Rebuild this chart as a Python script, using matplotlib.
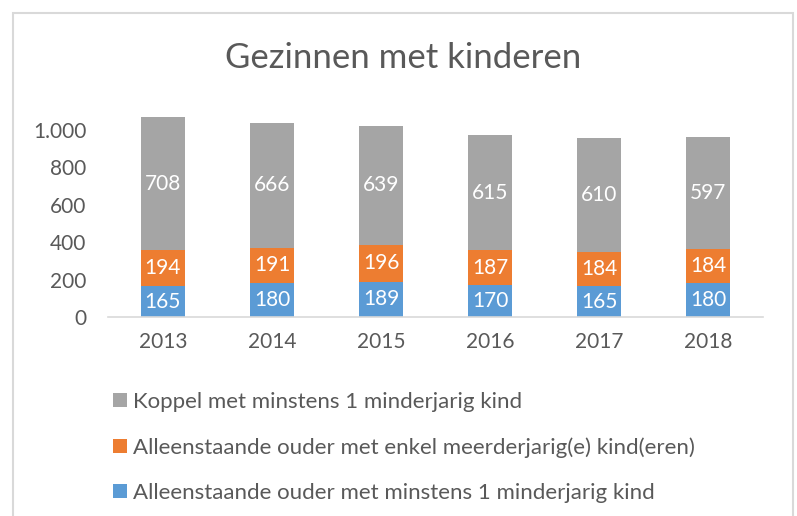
import matplotlib
matplotlib.use("Agg")
import matplotlib.pyplot as plt
from matplotlib.patches import Rectangle
import numpy as np

plt.rcParams['font.family'] = ['Lato', 'DejaVu Sans']

years = ["2013", "2014", "2015", "2016", "2017", "2018"]
alleen_minderjarig = [165, 180, 189, 170, 165, 180]
alleen_meerderjarig = [194, 191, 196, 187, 184, 184]
koppel_minderjarig = [708, 666, 639, 615, 610, 597]
yticks = [0, 200, 400, 600, 800, 1000]
ytick_labels = ["0", "200", "400", "600", "800", "1.000"]

labels = ["Alleenstaande ouder met minstens 1 minderjarig kind",
          "Alleenstaande ouder met enkel meerderjarig(e) kind(eren)",
          "Koppel met minstens 1 minderjarig kind"]
colors = ["#5B9BD5", "#ED7D31", "#A5A5A5"]
txtc = "#595959"

fig = plt.figure(figsize=(7.97, 5.16), dpi=100)
ax = fig.add_axes([0.136, 0.3857, 0.821, 0.3986])

x = np.arange(len(years))
series = [alleen_minderjarig, alleen_meerderjarig, koppel_minderjarig]
bottom = np.zeros(len(years))
handles = []
for vals, col, lab in zip(series, colors, labels):
    vals = np.array(vals)
    b = ax.bar(x, vals, 0.4, bottom=bottom, color=col, label=lab, zorder=2)
    handles.append(b)
    for xi, v, bt in zip(x, vals, bottom):
        ax.text(xi, bt + v / 2, str(v), ha='center', va='center',
                color='white', fontsize=15, zorder=3)
    bottom = bottom + vals

ax.set_xlim(-0.5, len(years) - 0.5)
ax.set_ylim(0, 1100)
ax.set_yticks(yticks)
ax.set_yticklabels(ytick_labels)
ax.set_xticks(x)
ax.set_xticklabels(years)
for s in ['top', 'right', 'left']:
    ax.spines[s].set_visible(False)
ax.spines['bottom'].set_color('#D9D9D9')
ax.spines['bottom'].set_linewidth(1.2)
ax.tick_params(axis='both', length=0, labelsize=15, colors=txtc)
ax.tick_params(axis='y', pad=16)
ax.tick_params(axis='x', pad=11)

fig.text(0.506, 0.888, "Gezinnen met kinderen", ha='center', va='center',
         fontsize=25, color=txtc)

leg = fig.legend(handles[::-1], labels[::-1], loc='upper left',
                 bbox_to_anchor=(0.142, 0.24), frameon=False,
                 fontsize=16, labelcolor=txtc, handlelength=0.6,
                 handleheight=0.6, handletextpad=0.3, labelspacing=1.12,
                 borderpad=0, borderaxespad=0)

fig.patches.append(Rectangle((13 / 797, -0.1), (793 - 13) / 797, 1.1 - 13 / 516,
                             transform=fig.transFigure, fill=False,
                             edgecolor='#D9D9D9', linewidth=1.5))

fig.savefig("out.png", dpi=100)
